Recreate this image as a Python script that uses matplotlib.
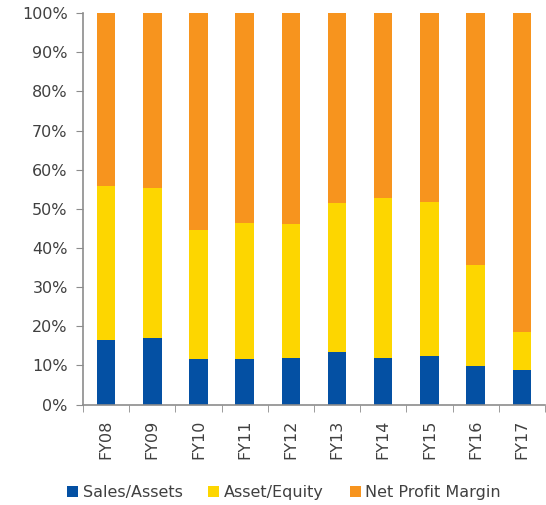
import matplotlib

matplotlib.use("Agg")
import matplotlib.pyplot as plt
import numpy as np
from matplotlib.ticker import FixedLocator, PercentFormatter

years = ["FY08", "FY09", "FY10", "FY11", "FY12", "FY13", "FY14", "FY15", "FY16", "FY17"]
sales_assets = [16.5, 17.1, 11.6, 11.6, 12.0, 13.5, 12.0, 12.4, 9.9, 8.7]
# cumulative top of the Asset/Equity segment
asset_equity_top = [55.8, 55.2, 44.6, 46.3, 46.1, 51.5, 52.7, 51.7, 35.6, 18.4]

asset_equity = np.array(asset_equity_top) - np.array(sales_assets)
net_margin = 100.0 - np.array(asset_equity_top)

colors = {"blue": "#0450A3", "yellow": "#FDD600", "orange": "#F7941E"}
plt.rcParams["font.family"] = ["DejaVu Sans"]

fig = plt.figure(figsize=(5.46, 5.05), dpi=100)
ax = fig.add_axes([0.152, 0.199, 0.846, 0.775])
x = np.arange(len(years))
w = 0.4
ax.bar(x, sales_assets, w, color=colors["blue"], label="Sales/Assets")
ax.bar(x, asset_equity, w, bottom=sales_assets, color=colors["yellow"], label="Asset/Equity")
ax.bar(x, net_margin, w, bottom=asset_equity_top, color=colors["orange"], label="Net Profit Margin")

ax.set_xlim(-0.5, len(years) - 0.5)
ax.set_ylim(0, 100)
ax.yaxis.set_major_locator(FixedLocator(np.arange(0, 101, 10)))
ax.yaxis.set_major_formatter(PercentFormatter(decimals=0))
ax.set_xticks(x)
ax.set_xticklabels(years, rotation=90)
ax.xaxis.set_minor_locator(FixedLocator(np.arange(-0.5, len(years), 1.0)))
ax.tick_params(axis="x", which="major", length=0, pad=11, labelsize=11.5, colors="#404040")
ax.tick_params(axis="x", which="minor", length=5, color="#8C8C8C")
ax.tick_params(axis="y", length=5, pad=6, color="#8C8C8C", labelsize=11.5, labelcolor="#404040")
ax.spines[["top", "right"]].set_visible(False)
for side in ("left", "bottom"):
    ax.spines[side].set_color("#8C8C8C")
    ax.spines[side].set_linewidth(1.2)

fig.legend(
    loc="center",
    bbox_to_anchor=(0.52, 0.025),
    ncol=3,
    frameon=False,
    fontsize=11.5,
    handlelength=0.7,
    handleheight=0.7,
    handletextpad=0.3,
    columnspacing=1.6,
    labelcolor="#404040",
)

fig.savefig("out.png", dpi=100, facecolor="white")
